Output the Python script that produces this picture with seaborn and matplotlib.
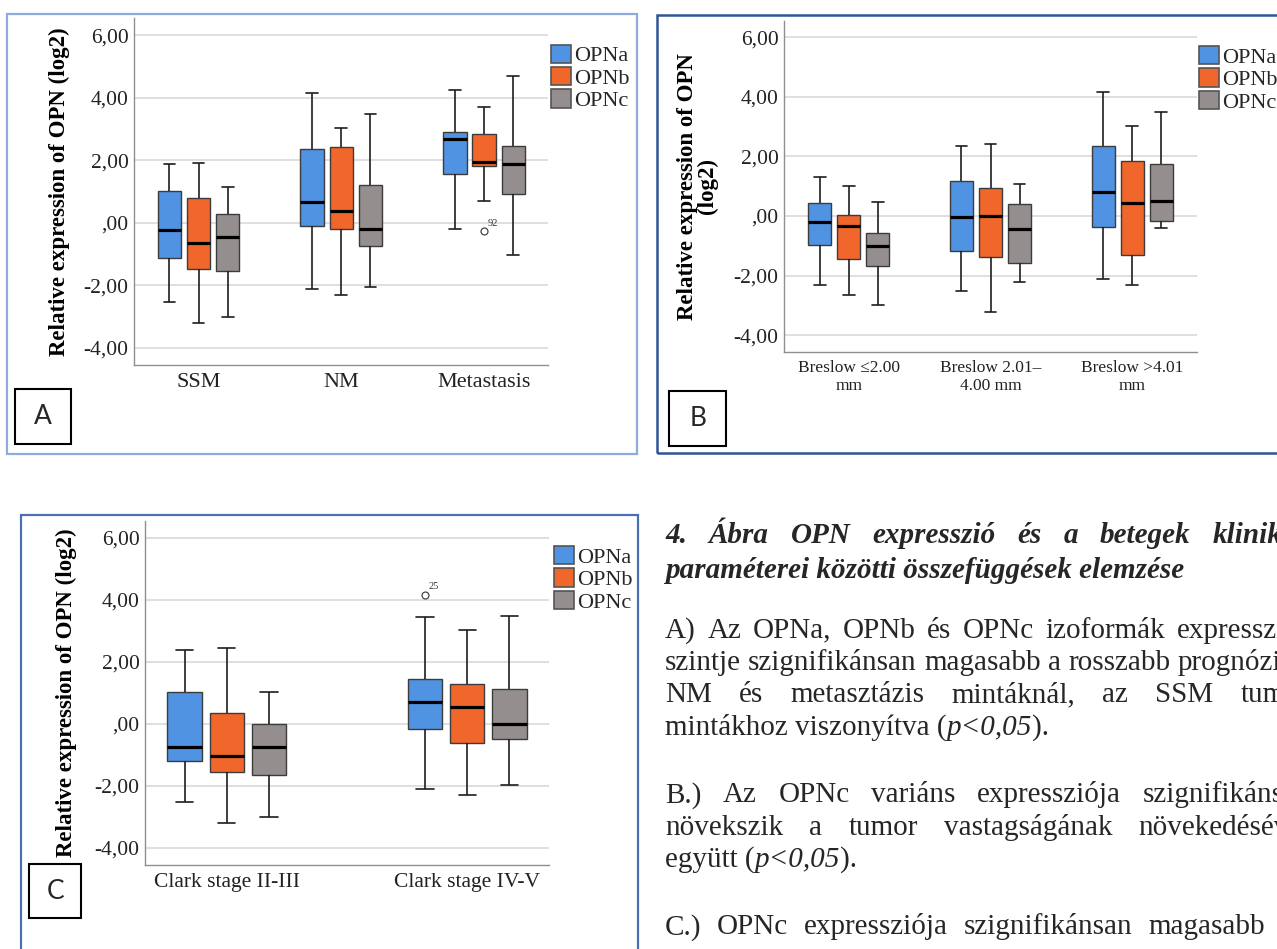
import numpy as np
import pandas as pd
import matplotlib
matplotlib.use("Agg")
import matplotlib.pyplot as plt
import seaborn as sns
from matplotlib.patches import Rectangle, Patch

# ---------------- data ----------------
isoforms = ["OPNa", "OPNb", "OPNc"]
iso_colors = ["#4F93E2", "#F0662B", "#948F8E"]

ytick_vals = [-4, -2, 0, 2, 4, 6]
ytick_labels = ["-4,00", "-2,00", ",00", "2,00", "4,00", "6,00"]

# five-number summaries [min, q1, median, q3, max], one row per category
cats_a = ["SSM", "NM", "Metastasis"]
a_opna = [[-2.53, -1.12, -0.22, 1.03, 1.88], [-2.12, -0.11, 0.66, 2.36, 4.15], [-0.18, 1.58, 2.70, 2.91, 4.25]]
a_opnb = [[-3.22, -1.49, -0.63, 0.80, 1.93], [-2.30, -0.21, 0.39, 2.42, 3.03], [0.69, 1.83, 1.95, 2.83, 3.71]]
a_opnc = [[-3.00, -1.55, -0.46, 0.29, 1.15], [-2.04, -0.75, -0.20, 1.22, 3.48], [-1.02, 0.94, 1.87, 2.47, 4.70]]
a_outliers = [("Metastasis", "OPNb", -0.27, "92")]

cats_b = ["Breslow \u22642.00\nmm", "Breslow 2.01\u2013\n4.00 mm", "Breslow >4.01\nmm"]
b_opna = [[-2.31, -0.97, -0.19, 0.43, 1.30], [-2.53, -1.17, -0.04, 1.17, 2.36], [-2.12, -0.36, 0.82, 2.36, 4.17]]
b_opnb = [[-2.65, -1.43, -0.33, 0.03, 1.00], [-3.22, -1.36, -0.01, 0.95, 2.42], [-2.31, -1.30, 0.43, 1.83, 3.02]]
b_opnc = [[-2.99, -1.66, -0.99, -0.58, 0.48], [-2.21, -1.57, -0.43, 0.41, 1.06], [-0.39, -0.17, 0.49, 1.73, 3.48]]
b_outliers = []

cats_c = ["Clark stage II-III", "Clark stage IV-V"]
c_opna = [[-2.52, -1.20, -0.75, 1.02, 2.37], [-2.11, -0.17, 0.69, 1.46, 3.43]]
c_opnb = [[-3.20, -1.56, -1.02, 0.35, 2.43], [-2.30, -0.62, 0.53, 1.29, 3.03]]
c_opnc = [[-2.99, -1.66, -0.73, -0.01, 1.04], [-1.96, -0.50, -0.01, 1.11, 3.48]]
c_outliers = [("Clark stage IV-V", "OPNa", 4.16, "25")]

# ---------------- style ----------------
sns.set_style("white")
SERIF = ["Liberation Serif", "DejaVu Serif"]
plt.rcParams["font.family"] = SERIF

W, H = 1277, 949
fig = plt.figure(figsize=(W / 100, H / 100), dpi=100)
fig.patch.set_facecolor("white")


def fx(x):
    return x / W


def fy(y):
    return 1 - y / H


def axes_px(x0, y0, x1, y1):
    return fig.add_axes([fx(x0), fy(y1), (x1 - x0) / W, (y1 - y0) / H])


def frame_px(x0, y0, x1, y1, color, lw):
    fig.add_artist(Rectangle((fx(x0), fy(y1)), (x1 - x0) / W, (y1 - y0) / H,
                             transform=fig.transFigure, fill=False,
                             edgecolor=color, linewidth=lw))


def build_df(cats, series, outliers):
    rows = []
    for iso, summ in zip(isoforms, series):
        for cat, five in zip(cats, summ):
            for v in np.repeat(five, 4):
                rows.append((cat, iso, v))
    for cat, iso, v, _ in outliers:
        rows.append((cat, iso, v))
    return pd.DataFrame(rows, columns=["cat", "iso", "val"])


def panel(box, cats, series, outliers, xlim, width, gap, xsize, ylabel,
          ylab_x, leg_xy):
    ax = axes_px(*box)
    df = build_df(cats, series, outliers)
    sns.boxplot(data=df, x="cat", y="val", hue="iso", order=cats,
                hue_order=isoforms, palette=iso_colors, saturation=1,
                width=width, gap=gap, whis=1.5, linecolor="#3c3c3c",
                linewidth=1.0, legend=False, ax=ax,
                medianprops=dict(color="black", linewidth=2.3),
                whiskerprops=dict(color="#1e1e1e", linewidth=1.2),
                capprops=dict(color="#1e1e1e", linewidth=1.2),
                flierprops=dict(marker="o", markerfacecolor="none",
                                markeredgecolor="#444444", markersize=5,
                                markeredgewidth=0.9))
    ax.set_xlim(*xlim)
    ax.set_ylim(-4.55, 6.55)
    ax.set_yticks(ytick_vals)
    ax.set_yticklabels(ytick_labels)
    ax.set_axisbelow(True)
    ax.grid(axis="y", color="#d9d9d9", linewidth=1.2)
    ax.grid(axis="x", visible=False)
    for s in ["top", "right"]:
        ax.spines[s].set_visible(False)
    for s in ["left", "bottom"]:
        ax.spines[s].set_color("#8f8f8f")
        ax.spines[s].set_linewidth(1.0)
    ax.tick_params(axis="y", length=0, pad=4, labelsize=15.5, labelcolor="#222222")
    ax.tick_params(axis="x", length=0, pad=6, labelsize=xsize, labelcolor="#222222")
    ax.set_xlabel("")
    ax.set_ylabel(ylabel, fontsize=16.5, fontweight="bold", color="black",
                  linespacing=0.95)
    ax.yaxis.set_label_coords(ylab_x, 0.5)

    # flier labels
    for cat, iso, v, lab in outliers:
        for ln in ax.lines:
            yd = np.asarray(ln.get_ydata(), dtype=float)
            if ln.get_marker() == "o" and yd.size and np.any(np.isclose(yd, v)):
                xd = np.asarray(ln.get_xdata(), dtype=float)
                k = int(np.argmin(np.abs(yd - v)))
                ax.annotate(lab, (xd[k], yd[k]), xytext=(2.5, 2.5),
                            textcoords="offset points", fontsize=7.5,
                            color="#333333", ha="left", va="bottom")

    handles = [Patch(facecolor=c, edgecolor="#555555", linewidth=1.2, label=i)
               for c, i in zip(iso_colors, isoforms)]
    ax.legend(handles=handles, loc="upper left",
              bbox_to_anchor=(fx(leg_xy[0]), fy(leg_xy[1])),
              bbox_transform=fig.transFigure, frameon=False, borderpad=0,
              borderaxespad=0, labelspacing=0.02, handlelength=0.9,
              handleheight=0.9, handletextpad=0.15,
              prop=dict(family=SERIF, size=16))
    return ax


panel((134.3, 18.3, 548.3, 365), cats_a, [a_opna, a_opnb, a_opnc], a_outliers,
      (-0.45, 2.45), 0.613, 0.2, 16,
      "Relative expression of OPN (log2)", -0.155, (550.5, 44.5))
panel((784.3, 20.7, 1196.7, 351.7), cats_b, [b_opna, b_opnb, b_opnc], b_outliers,
      (-0.455, 2.455), 0.615, 0.2, 12.5,
      "Relative expression of OPN\n(log2)", -0.16, (1199, 46))
panel((145, 520.7, 549, 865), cats_c, [c_opna, c_opnb, c_opnc], c_outliers,
      (-0.34, 1.34), 0.527, 0.19, 15.5,
      "Relative expression of OPN (log2)", -0.169, (553.5, 546))

# panel frames
frame_px(7.3, 14, 637.3, 454, "#8FAADC", 1.6)
frame_px(657.3, 15, 1320, 452.7, "#2F5597", 1.8)
frame_px(21, 515, 637.5, 990, "#4A6FB3", 1.6)

# panel letters
for (x0, y0, x1, y1), letter in [((15, 389, 71, 444), "A"),
                                 ((669.3, 390.7, 726, 446), "B"),
                                 ((29.3, 864, 81, 918.3), "C")]:
    frame_px(x0, y0, x1, y1, "black", 1.5)
    fig.text(fx((x0 + x1) / 2), fy((y0 + y1) / 2), letter, ha="center",
             va="center", fontsize=19, family=["Lato", "DejaVu Sans"])

# ---------------- caption text ----------------
BODY = 21
X0 = 665
renderer = fig.canvas.get_renderer()


def justify(y, words, xr, weight="normal", style="normal"):
    ts = [fig.text(0, 0, w, fontsize=BODY, fontweight=weight, fontstyle=style,
                   ha="left", va="baseline", family=SERIF) for w in words]
    ws = [t.get_window_extent(renderer).width for t in ts]
    gap = (xr - X0 - sum(ws)) / (len(words) - 1)
    x = X0
    for t, w in zip(ts, ws):
        t.set_position((fx(x), fy(y)))
        x += w + gap


def runs(y, parts):
    x = X0
    for txt, weight, style in parts:
        t = fig.text(fx(x), fy(y), txt, fontsize=BODY, fontweight=weight,
                     fontstyle=style, ha="left", va="baseline", family=SERIF)
        x += t.get_window_extent(renderer).width


justify(543, "4. \u00c1bra OPN expresszi\u00f3 \u00e9s a betegek klinikai".split(), 1305,
        weight="bold", style="italic")
runs(578, [("param\u00e9terei k\u00f6z\u00f6tti \u00f6sszef\u00fcgg\u00e9sek elemz\u00e9se",
            "bold", "italic")])
justify(637.7, "A) Az OPNa, OPNb \u00e9s OPNc izoform\u00e1k expresszi\u00f3s".split(), 1311)
justify(670, "szintje szignifik\u00e1nsan magasabb a rosszabb progn\u00f3zis\u00fa".split(), 1307)
justify(702.3, "NM \u00e9s metaszt\u00e1zis mint\u00e1kn\u00e1l, az SSM tumor".split(), 1310)
runs(735, [("mint\u00e1khoz viszony\u00edtva (", "normal", "normal"),
           ("p<0,05", "normal", "italic"),
           (").", "normal", "normal")])
justify(802.3, "B.) Az OPNc vari\u00e1ns expresszi\u00f3ja szignifik\u00e1nsan".split(), 1311)
justify(834.6, "n\u00f6vekszik a tumor vastags\u00e1g\u00e1nak n\u00f6veked\u00e9s\u00e9vel".split(), 1310)
runs(867, [("egy\u00fctt (", "normal", "normal"),
           ("p<0,05", "normal", "italic"),
           (").", "normal", "normal")])
justify(934.3, "C.) OPNc expresszi\u00f3ja szignifik\u00e1nsan magasabb".split(), 1265)

fig.savefig("out.png", dpi=100, facecolor="white")
